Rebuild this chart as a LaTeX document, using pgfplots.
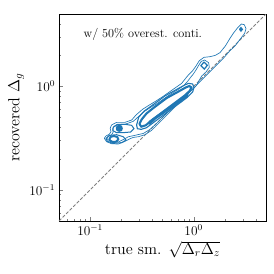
\documentclass[border=0pt]{standalone}
\usepackage{pgfplots}
\pgfplotsset{compat=1.18}
\definecolor{tabblue}{HTML}{1F77B4}
\begin{document}
\begin{tikzpicture}
\begin{loglogaxis}[
  name=ax,
  scale only axis,
  width=186.3pt, height=186.3pt,
  xmin=0.05, xmax=5, ymin=0.05, ymax=5,
  tick align=inside, tick pos=left,
  major tick length=4pt, minor tick length=2.2pt,
  tick label style={font=\large},
  xlabel={true sm. $\sqrt{\Delta_r\Delta_z}$},
  ylabel={recovered $\Delta_g$},
  label style={font=\Large},
  xlabel style={yshift=2pt},
  ylabel style={yshift=-2pt},
  axis line style={line width=0.7pt},
  clip=true,
]
% diagonal
\addplot[gray, line width=0.7pt, dash pattern=on 3pt off 1.5pt] coordinates {(0.05,0.05) (5,5)};
% outer contour A
\addplot[tabblue, line width=0.6pt] coordinates {
(0.137,0.315)(0.142,0.331)(0.153,0.344)(0.159,0.365)(0.156,0.393)(0.161,0.423)(0.180,0.449)(0.217,0.449)
(0.252,0.473)(0.277,0.528)(0.321,0.600)(0.373,0.660)(0.433,0.722)(0.502,0.795)(0.582,0.882)(0.675,0.978)
(0.766,1.069)(0.831,1.186)(0.895,1.297)(0.978,1.417)(1.053,1.571)(1.134,1.770)(1.258,1.906)(1.439,1.935)
(1.619,1.993)(1.796,2.115)(2.023,2.453)(2.244,2.910)(2.453,3.323)(2.681,3.715)(2.889,4.000)(3.087,3.945)
(3.204,3.607)(3.110,3.251)(2.805,2.844)(2.507,2.453)(2.244,2.212)(1.935,1.865)(1.667,1.607)(1.439,1.386)
(1.240,1.195)(1.085,1.045)(0.956,0.915)(0.825,0.789)(0.711,0.680)(0.613,0.586)(0.528,0.505)(0.456,0.436)
(0.393,0.376)(0.339,0.341)(0.292,0.326)(0.261,0.321)(0.243,0.312)(0.217,0.294)(0.187,0.277)(0.161,0.279)
(0.144,0.292)(0.137,0.315)};
% second contour A2
\addplot[tabblue, line width=0.6pt] coordinates {
(0.144,0.315)(0.151,0.329)(0.161,0.339)(0.167,0.362)(0.165,0.390)(0.170,0.411)(0.183,0.430)(0.217,0.430)
(0.261,0.459)(0.292,0.509)(0.339,0.578)(0.393,0.636)(0.456,0.695)(0.528,0.771)(0.613,0.856)(0.711,0.935)
(0.807,1.022)(0.875,1.118)(0.935,1.222)(0.993,1.316)(1.053,1.438)(1.118,1.595)(1.186,1.744)(1.277,1.796)
(1.396,1.693)(1.417,1.526)(1.316,1.375)(1.195,1.258)(1.118,1.118)(1.053,1.007)(0.922,0.895)(0.795,0.783)
(0.685,0.680)(0.591,0.586)(0.509,0.509)(0.439,0.439)(0.379,0.384)(0.327,0.351)(0.281,0.339)(0.252,0.331)
(0.234,0.326)(0.212,0.308)(0.187,0.290)(0.164,0.292)(0.150,0.303)(0.144,0.315)};
% lobes
\addplot[tabblue, line width=0.9pt] coordinates {
(0.167,0.402)(0.183,0.426)(0.217,0.430)(0.252,0.420)(0.265,0.390)(0.246,0.362)(0.209,0.357)(0.180,0.357)(0.166,0.373)(0.167,0.402)};
\addplot[tabblue, line width=0.9pt] coordinates {
(0.142,0.312)(0.153,0.336)(0.180,0.341)(0.209,0.326)(0.222,0.303)(0.202,0.286)(0.167,0.281)(0.147,0.294)(0.142,0.312)};
% middle contour M
\addplot[tabblue, line width=1.0pt] coordinates {
(0.281,0.423)(0.294,0.502)(0.331,0.574)(0.393,0.650)(0.459,0.727)(0.532,0.812)(0.618,0.882)(0.716,0.957)
(0.819,1.030)(0.895,1.069)(0.978,1.053)(1.007,0.978)(0.978,0.882)(0.869,0.783)(0.749,0.700)(0.636,0.622)
(0.548,0.557)(0.473,0.498)(0.408,0.446)(0.351,0.399)(0.312,0.384)(0.286,0.390)(0.281,0.423)};
% inner thick B1
\addplot[tabblue, line width=1.9pt] coordinates {
(0.299,0.433)(0.315,0.480)(0.351,0.548)(0.408,0.618)(0.473,0.690)(0.548,0.771)(0.636,0.837)(0.738,0.908)
(0.843,0.978)(0.908,1.007)(0.950,0.978)(0.922,0.908)(0.825,0.819)(0.711,0.732)(0.613,0.655)(0.528,0.586)
(0.456,0.525)(0.393,0.469)(0.344,0.420)(0.312,0.408)(0.299,0.433)};
% inner thick B2
\addplot[tabblue, line width=1.9pt] coordinates {
(0.373,0.452)(0.439,0.509)(0.509,0.565)(0.591,0.627)(0.685,0.695)(0.795,0.771)(0.869,0.837)(0.856,0.795)
(0.766,0.738)(0.660,0.665)(0.569,0.600)(0.491,0.540)(0.423,0.487)(0.379,0.439)(0.373,0.452)};
% dot in upper lobe
\addplot[tabblue, line width=1.5pt, fill=tabblue] coordinates {
(0.180,0.393)(0.183,0.411)(0.191,0.417)(0.200,0.411)(0.203,0.393)(0.200,0.376)(0.191,0.370)(0.183,0.376)(0.180,0.393)};
% eye in lower lobe
\addplot[tabblue, line width=1.8pt] coordinates {
(0.153,0.310)(0.159,0.326)(0.170,0.331)(0.183,0.324)(0.187,0.308)(0.179,0.292)(0.165,0.290)(0.156,0.299)(0.153,0.310)};
% diamond
\addplot[tabblue, line width=1.1pt] coordinates {
(1.258,1.718)(1.355,1.595)(1.268,1.471)(1.177,1.584)(1.258,1.718)};
% top right dot
\addplot[tabblue, line width=1.2pt, fill=tabblue] coordinates {
(2.782,3.555)(2.866,3.687)(2.952,3.555)(2.866,3.426)(2.782,3.555)};
\node[anchor=west, font=\fontsize{11}{13}\selectfont] at (rel axis cs:0.10,0.903) {w/ 50\% overest. conti.};
\end{loglogaxis}
\pgfresetboundingbox
\path ([shift={(-53.1pt,-47.7pt)}]ax.south west) rectangle ([shift={(6.9pt,12.6pt)}]ax.north east);
\end{tikzpicture}
\end{document}
